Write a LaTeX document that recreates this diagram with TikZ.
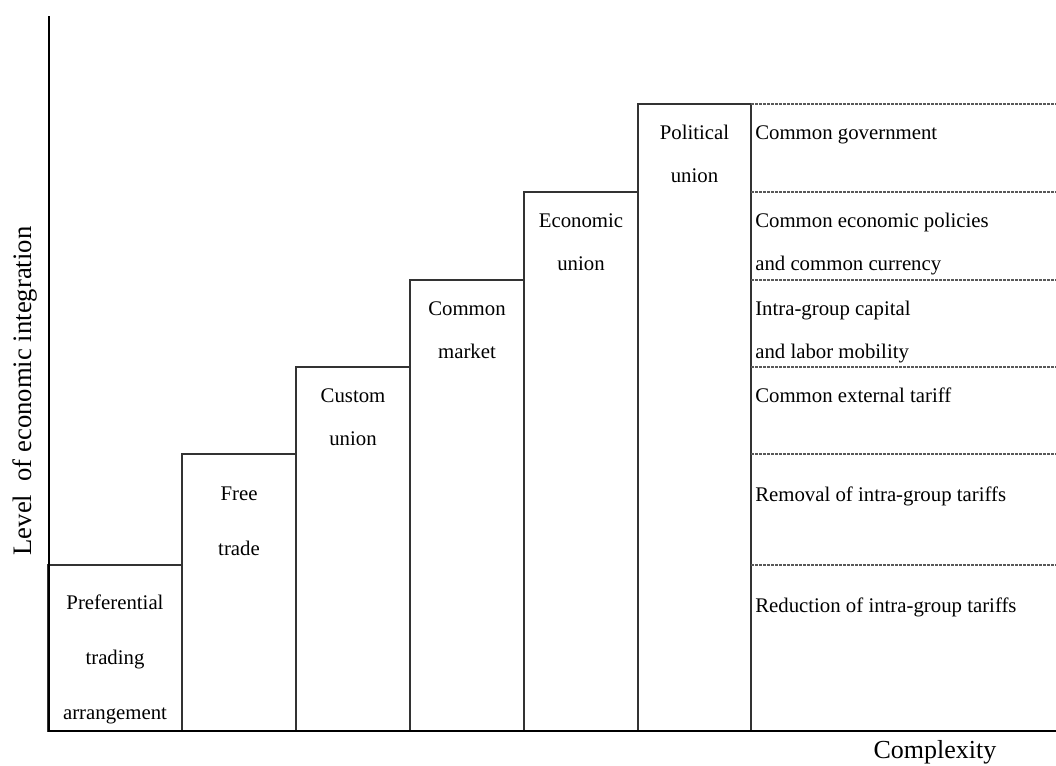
\documentclass[tikz,border=0pt]{standalone}
\usepackage{fontspec}
\setmainfont{Liberation Serif}
\usetikzlibrary{positioning}

\begin{document}
\begin{tikzpicture}[x=0.75pt,y=-0.75pt,
    bar/.style={draw=black!80,line width=1.1pt},
    guide/.style={draw=black!65,line width=0.8pt,dash pattern=on 2pt off 1pt},
    axis/.style={draw=black,line width=2.2pt},
    stage/.style={font=\fontsize{15.6}{32.6}\selectfont,align=center,inner sep=0pt,anchor=base},
    stagewide/.style={stage,font=\fontsize{15.6}{40.9}\selectfont},
    feature/.style={font=\fontsize{15.6}{32.6}\selectfont,align=left,inner sep=0pt,anchor=base west}]

\useasboundingbox (0,0) rectangle (1056,765);

\coordinate (top) at (49,16);
\coordinate (origin) at (49,731);
\coordinate (end) at (1056,731);

% steps: left edge / right edge / top
\foreach \l/\r/\t in {48/182/565, 182/296/454, 296/410/367,
                      410/524/280, 524/638/192, 638/751/104}
    \draw [bar] (\l,731) rectangle (\r,\t);

% levels to the right
\foreach \t in {104,192,280,367,454,565}
    \draw [guide] (751,\t) -- (1056,\t);

\draw [axis] (top) -- (origin) -- (end);

% base = baseline of the last line
\node [stagewide] (pta) at (115,719) {Preferential\\trading\\arrangement};
\node [stagewide] (fta) at (239,555.5) {Free\\trade};
\node [stage] (cu)  at (353,445.5) {Custom\\union};
\node [stage] (cm)  at (467,358.5) {Common\\market};
\node [stage] (eu)  at (581,270.5) {Economic\\union};
\node [stage] (pu)  at (694.5,182.5) {Political\\union};

\node [feature] (gov)  at (755,139) {Common government};
\node [feature] (pol)  at (755,270.5) {Common economic policies\\and common currency};
\node [feature] (mob)  at (755,358.5) {Intra-group capital\\and labor mobility};
\node [feature] (ext)  at (755,402) {Common external tariff};
\node [feature] (rem)  at (755,501) {Removal of intra-group tariffs};
\node [feature] (red)  at (755,612) {Reduction of intra-group tariffs};

\node [rotate=90,font=\fontsize{20}{24}\selectfont,inner sep=0pt] (ylab) at (25,391) {Level~ of economic integration};
\node [font=\fontsize{19.5}{24}\selectfont,inner sep=0pt] (xlab) at (935,752) {Complexity};

\end{tikzpicture}
\end{document}
